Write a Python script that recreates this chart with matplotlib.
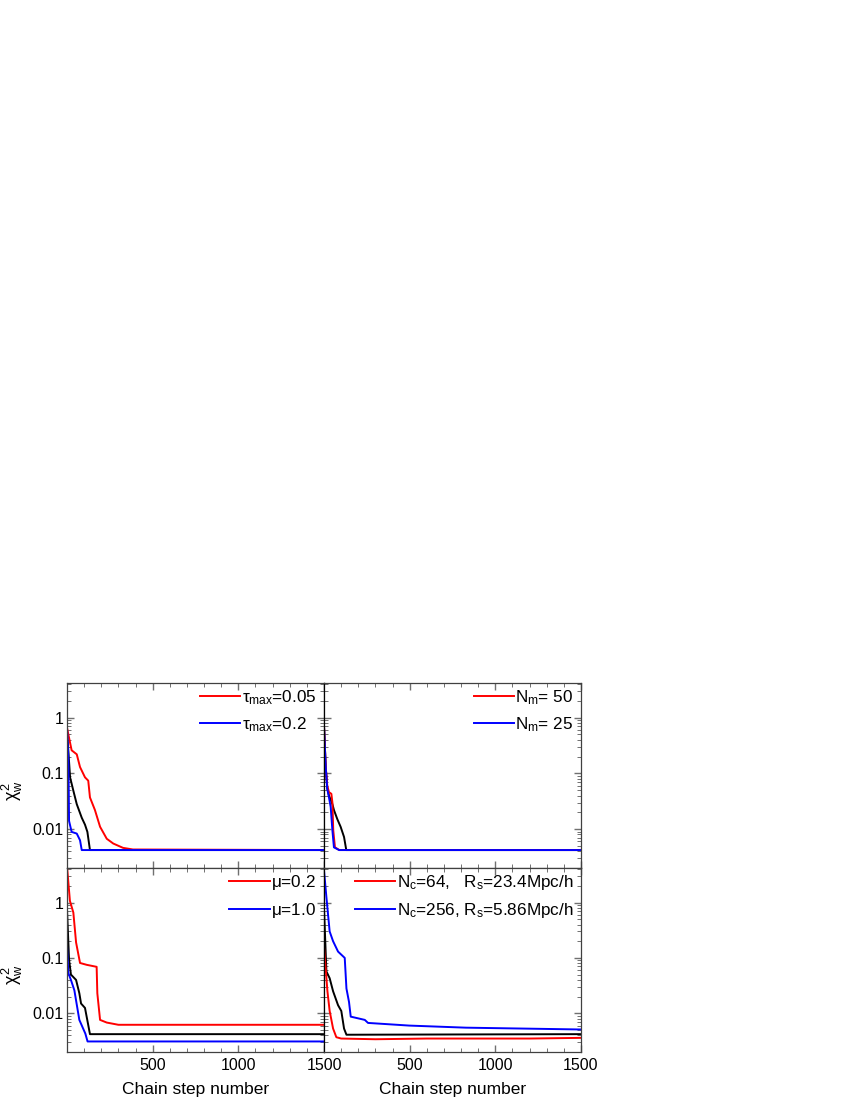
import numpy as np
import matplotlib.pyplot as plt
from matplotlib.ticker import FixedLocator, MultipleLocator, LogLocator, NullFormatter, FixedFormatter

plt.rcParams['font.family'] = ['Liberation Sans', 'DejaVu Sans']
plt.rcParams['mathtext.fontset'] = 'custom'
plt.rcParams['mathtext.rm'] = 'Liberation Sans'
plt.rcParams['mathtext.it'] = 'Liberation Sans'
plt.rcParams['mathtext.bf'] = 'Liberation Sans:bold'

# panel (a): tau_max
tau_red_x = [0, 27, 57, 76, 105, 124, 134, 163, 193, 232, 270, 327, 385, 1500]
tau_red_y = [0.66, 0.26, 0.22, 0.13, 0.085, 0.074, 0.037, 0.022, 0.011, 0.0067, 0.0055, 0.0046, 0.0043, 0.0042]
tau_blk_x = [0, 18, 37, 57, 86, 105, 119, 134, 1500]
tau_blk_y = [0.58, 0.085, 0.049, 0.028, 0.016, 0.012, 0.0089, 0.0042, 0.0042]
tau_blu_x = [0, 8, 12, 27, 57, 76, 86, 1500]
tau_blu_y = [0.66, 0.19, 0.014, 0.0089, 0.0083, 0.0063, 0.0042, 0.0042]

# panel (b): N_m
nm_red_x = [0, 10, 19, 29, 43, 49, 54, 64, 90, 1500]
nm_red_y = [0.71, 0.13, 0.06, 0.046, 0.043, 0.030, 0.0095, 0.0047, 0.0042, 0.0042]
nm_blk_x = [0, 10, 19, 29, 49, 58, 78, 97, 117, 130, 1500]
nm_blk_y = [0.71, 0.13, 0.055, 0.04, 0.028, 0.022, 0.015, 0.011, 0.0072, 0.0042, 0.0042]
nm_blu_x = [0, 10, 19, 29, 39, 49, 58, 88, 1500]
nm_blu_y = [0.71, 0.13, 0.053, 0.037, 0.025, 0.0095, 0.0047, 0.0042, 0.0042]

# panel (c): mu
mu_red_x = [0, 17, 37, 53, 76, 115, 173, 177, 193, 232, 300, 1500]
mu_red_y = [4.5, 1.07, 0.66, 0.19, 0.081, 0.075, 0.069, 0.023, 0.0076, 0.0068, 0.0062, 0.0062]
mu_blk_x = [0, 12, 23, 53, 72, 82, 105, 122, 134, 1500]
mu_blk_y = [0.75, 0.093, 0.05, 0.04, 0.023, 0.015, 0.0125, 0.0066, 0.0042, 0.0042]
mu_blu_x = [0, 8, 23, 43, 53, 72, 107, 120, 1500]
mu_blu_y = [0.17, 0.053, 0.04, 0.026, 0.017, 0.0076, 0.0043, 0.0031, 0.0031]

# panel (d): N_c / R_s
nc_red_x = [0, 20, 33, 53, 72, 100, 300, 600, 900, 1200, 1500]
nc_red_y = [0.16, 0.025, 0.011, 0.0053, 0.0037, 0.0035, 0.0034, 0.0035, 0.0035, 0.0035, 0.0036]
nc_blk_x = [0, 14, 33, 53, 82, 101, 117, 131, 1500]
nc_blk_y = [0.8, 0.057, 0.043, 0.025, 0.014, 0.011, 0.0053, 0.0041, 0.0042]
nc_blu_x = [0, 14, 33, 53, 82, 121, 131, 146, 156, 238, 257, 497, 828, 1500]
nc_blu_y = [3.8, 1.25, 0.30, 0.2, 0.13, 0.1, 0.028, 0.016, 0.0087, 0.0076, 0.0067, 0.006, 0.0055, 0.0051]

labels_a = [r'$\tau_{max}$=0.05', r'$\tau_{max}$=0.2']
labels_b = [r'$N_m$= 50', r'$N_m$= 25']
labels_c = [r'$\mu$=0.2', r'$\mu$=1.0']
labels_d = [r'$N_c$=64,   $R_s$=23.4Mpc/h', r'$N_c$=256, $R_s$=5.86Mpc/h']

panels = [
    (tau_red_x, tau_red_y, tau_blk_x, tau_blk_y, tau_blu_x, tau_blu_y, labels_a),
    (nm_red_x, nm_red_y, nm_blk_x, nm_blk_y, nm_blu_x, nm_blu_y, labels_b),
    (mu_red_x, mu_red_y, mu_blk_x, mu_blk_y, mu_blu_x, mu_blu_y, labels_c),
    (nc_red_x, nc_red_y, nc_blk_x, nc_blk_y, nc_blu_x, nc_blu_y, labels_d),
]

fig = plt.figure(figsize=(8.5, 11), dpi=100)
W, H = 850.0, 1100.0
x0, xm, x1 = 67, 324, 581
y_top, y_mid, y_bot = 683, 868, 1052
boxes = [
    (x0, y_top, xm, y_mid), (xm, y_top, x1, y_mid),
    (x0, y_mid, xm, y_bot), (xm, y_mid, x1, y_bot),
]

spine_col = '#404040'
for i, (box, p) in enumerate(zip(boxes, panels)):
    l, t, r, b = box
    ax = fig.add_axes([l / W, 1 - b / H, (r - l) / W, (b - t) / H])
    rx, ry, kx, ky, bx, by, labs = p
    # black first so that the coloured runs sit on top of the shared plateau
    ax.plot(kx, ky, color='black', lw=1.4)
    ax.plot(rx, ry, color='red', lw=1.4, label=labs[0])
    ax.plot(bx, by, color='blue', lw=1.4, label=labs[1])

    ax.set_yscale('log')
    ax.set_xlim(0, 1500)
    ax.set_ylim(0.002, 4.2)
    ax.yaxis.set_major_locator(FixedLocator([0.01, 0.1, 1]))
    ax.yaxis.set_minor_locator(LogLocator(base=10, subs=np.arange(2, 10)))
    ax.yaxis.set_minor_formatter(NullFormatter())
    ax.xaxis.set_major_locator(FixedLocator([500, 1000, 1500]))
    ax.xaxis.set_minor_locator(MultipleLocator(100))

    ax.tick_params(which='both', direction='in', top=True, right=True,
                   colors='#707070', labelcolor='black', labelsize=11.5)
    ax.tick_params(which='major', length=5, width=1.0)
    ax.tick_params(which='minor', length=3, width=0.7)
    ax.tick_params(axis='y', pad=2.5)
    ax.tick_params(axis='x', pad=4.5)
    for s in ax.spines.values():
        s.set_color(spine_col)
        s.set_linewidth(0.9)

    if i % 2 == 0:
        ax.yaxis.set_major_formatter(FixedFormatter(['0.01', '0.1', '1']))
        ax.set_ylabel(r'$\chi^2_w$', fontsize=13)
        ax.yaxis.set_label_coords(-0.163, 0.42)
    else:
        ax.tick_params(labelleft=False)
        ax.spines['left'].set_color('black')
    if i < 2:
        ax.tick_params(labelbottom=False)
    else:
        ax.set_xlabel('Chain step number', fontsize=12.5, labelpad=6)

    ax.legend(loc='upper right', bbox_to_anchor=(0.99, 1.0), frameon=False,
              fontsize=12.3, handlelength=2.35, handletextpad=0.1,
              labelspacing=0.5, borderpad=0.2, borderaxespad=0.1)

fig.savefig('out.png', dpi=100)
